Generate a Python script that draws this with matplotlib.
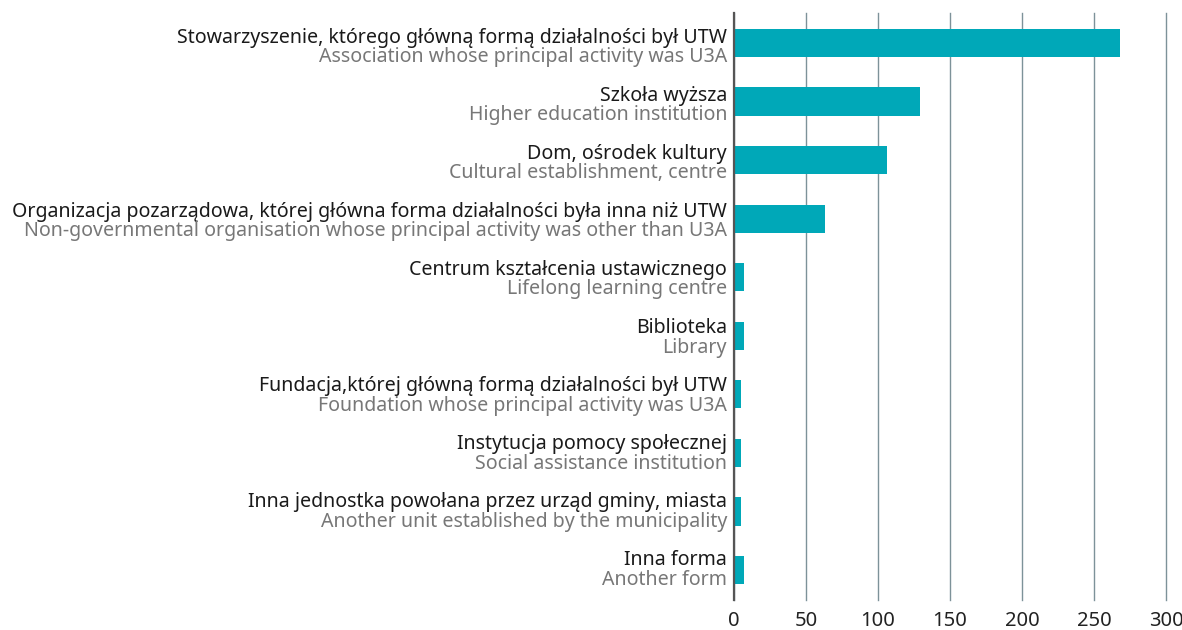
import matplotlib
matplotlib.use("Agg")
import matplotlib.pyplot as plt

labels_pl = [
    "Stowarzyszenie, którego główną formą działalności był UTW",
    "Szkoła wyższa",
    "Dom, ośrodek kultury",
    "Organizacja pozarządowa, której główna forma działalności była inna niż UTW",
    "Centrum kształcenia ustawicznego",
    "Biblioteka",
    "Fundacja,której główną formą działalności był UTW",
    "Instytucja pomocy społecznej",
    "Inna jednostka powołana przez urząd gminy, miasta",
    "Inna forma",
]
labels_en = [
    "Association whose principal activity was U3A",
    "Higher education institution",
    "Cultural establishment, centre",
    "Non-governmental organisation whose principal activity was other than U3A",
    "Lifelong learning centre",
    "Library",
    "Foundation whose principal activity was U3A",
    "Social assistance institution",
    "Another unit established by the municipality",
    "Another form",
]
values = [268, 129, 106, 63, 7, 7, 5, 5, 5, 7]
xticks = [0, 50, 100, 150, 200, 250, 300]

plt.rcParams['font.family'] = ['Noto Sans', 'DejaVu Sans']

W, H = 1182, 630
fig = plt.figure(figsize=(W / 100, H / 100), dpi=100)
ax = fig.add_axes([734 / W, 1 - 600 / H, (1166 - 734) / W, (600 - 13) / H])

pos = list(range(len(values)))
ax.barh(pos, values, height=0.48, color="#00A8B8", zorder=3)
ax.set_xlim(0, 300)
ax.set_ylim(len(values) - 0.49, -0.51)

ax.set_xticks(xticks)
ax.set_xticklabels([str(t) for t in xticks], fontsize=14.5, color="#222222")
ax.tick_params(axis="x", length=0, pad=8)
ax.set_yticks([])
ax.grid(axis="x", color="#7d9299", linewidth=1.0, zorder=0)
for gl in ax.get_xgridlines():
    gl.set_clip_on(False)
for s in ["top", "right", "bottom"]:
    ax.spines[s].set_visible(False)
ax.spines["left"].set_color("#555555")
ax.spines["left"].set_linewidth(1.6)
ax.spines["left"].set_zorder(4)

x_txt = 727 / W
for i, (pl, en) in enumerate(zip(labels_pl, labels_en)):
    base_pl = 42.5 + 58.1 * i
    base_en = base_pl + 19.5
    fig.text(x_txt, 1 - base_pl / H, pl, ha="right", va="baseline",
             fontsize=14.1, color="#1a1a1a")
    fig.text(x_txt, 1 - base_en / H, en, ha="right", va="baseline",
             fontsize=14.1, color="#777777")

fig.savefig("out.png", dpi=100)
